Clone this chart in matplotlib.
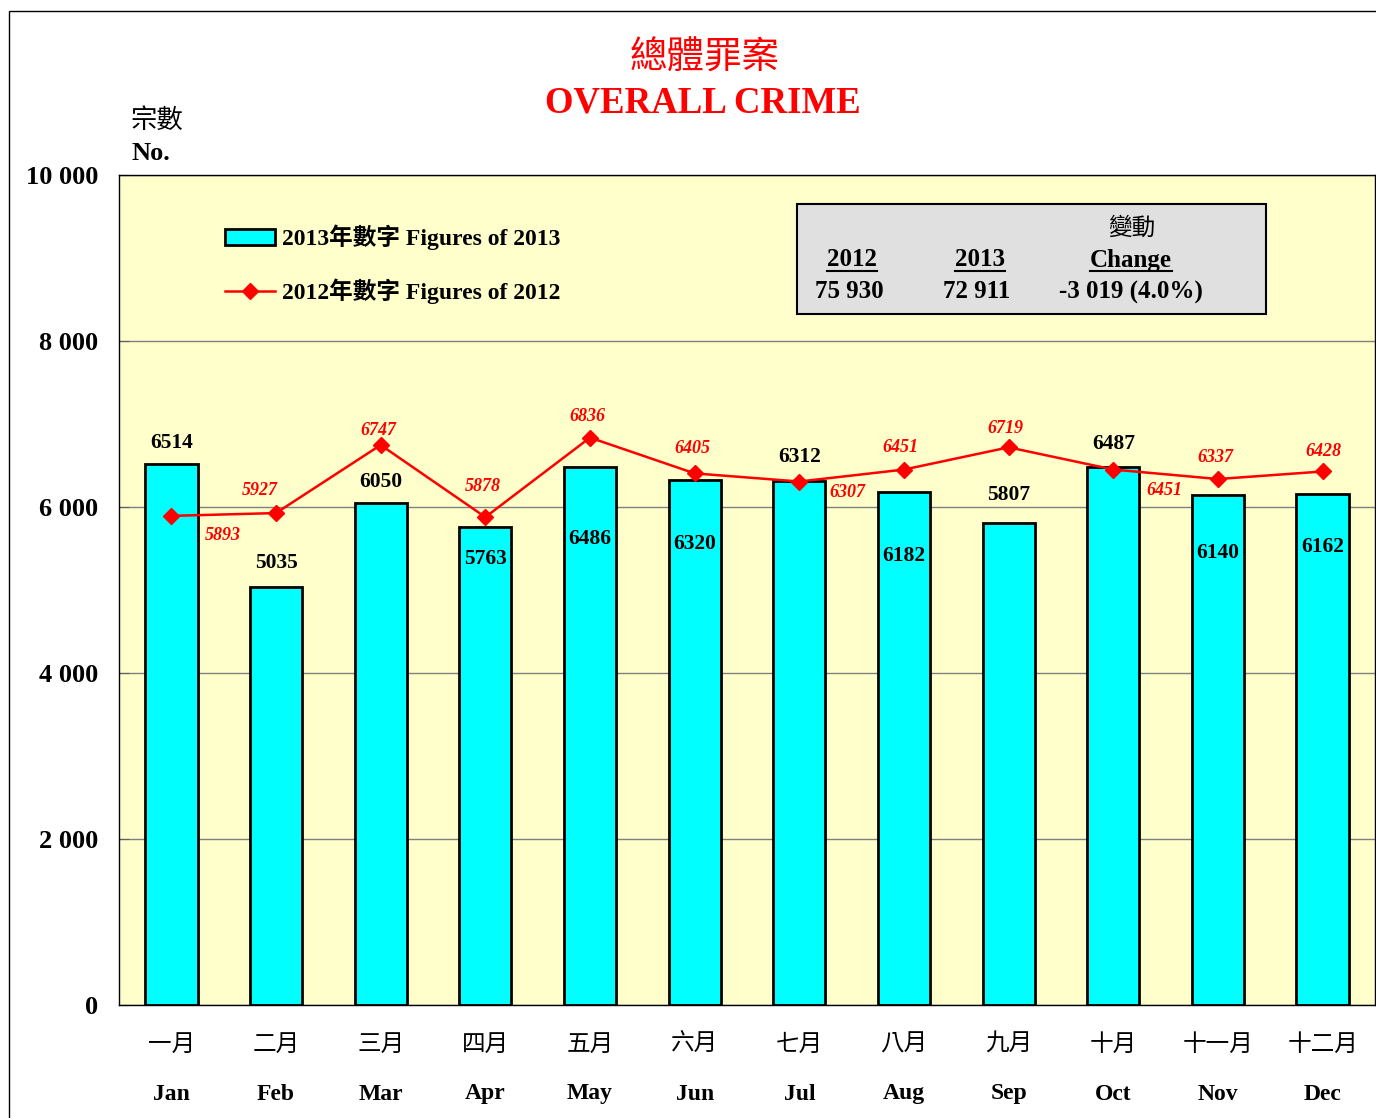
import matplotlib
matplotlib.use("Agg")
from matplotlib import pyplot as plt
from matplotlib.patches import Rectangle
from matplotlib.lines import Line2D
from matplotlib.transforms import blended_transform_factory

# data
months_zh = ['一月', '二月', '三月', '四月', '五月', '六月',
             '七月', '八月', '九月', '十月', '十一月', '十二月']
months_en = ['Jan', 'Feb', 'Mar', 'Apr', 'May', 'Jun',
             'Jul', 'Aug', 'Sep', 'Oct', 'Nov', 'Dec']
figures_2013 = [6514, 5035, 6050, 5763, 6486, 6320, 6312, 6182, 5807, 6487, 6140, 6162]
figures_2012 = [5893, 5927, 6747, 5878, 6836, 6405, 6307, 6451, 6719, 6451, 6337, 6428]
yticks = [0, 2000, 4000, 6000, 8000, 10000]
ytick_labels = ['0', '2 000', '4 000', '6 000', '8 000', '10 000']
total_2012 = '75 930'
total_2013 = '72 911'
total_change = '-3 019 (4.0%)'

# label offsets in pixels (dx, dy)
bar_label_dy = [21, 24, 21, -32, -72, -64, 24, -64, 28, 23, -58, -53]
line_label_off = [(51, -20), (-16, 23), (-2, 14), (-3, 31), (-3, 21), (-2, 25),
                  (48, -11), (-4, 22), (-3, 19), (51, -21), (-3, 22), (1, 20)]

FAM = ['Liberation Serif', 'Noto Sans CJK TC']
plt.rcParams['font.family'] = FAM
plt.rcParams['font.weight'] = 'bold'

W, H = 1376, 1118
fig = plt.figure(figsize=(W / 100, H / 100), dpi=100)
ax = fig.add_axes([119 / W, 1 - 1005 / H, (1375 - 119) / W, (1005 - 175) / H])
ax.set_facecolor('#FFFFCC')

def fx(x):
    return x / W

def fy(y):
    return 1 - y / H

x = list(range(len(months_en)))
bars = ax.bar(x, figures_2013, width=0.5, color='#00FFFF', edgecolor='black',
              linewidth=2, zorder=2)
line, = ax.plot(x, figures_2012, color='red', lw=1.8, marker='D', markersize=8,
                zorder=3)

ax.set_xlim(-0.5, 11.5)
ax.set_ylim(0, 10000)
ax.set_yticks(yticks)
ax.set_yticklabels(ytick_labels, fontsize=19, fontweight='bold')
ax.yaxis.grid(True, color='#808080', lw=1)
ax.set_axisbelow(True)
ax.tick_params(axis='y', direction='in', length=7, pad=15, color='#606060')
ax.tick_params(axis='x', length=0, pad=20)
ax.set_xticks(x)
ax.set_xticklabels(months_zh, fontsize=17, fontweight='normal', family='Noto Sans CJK TC')
for s in ax.spines.values():
    s.set_color('black')
    s.set_linewidth(1)

trans = blended_transform_factory(ax.transData, ax.transAxes)
for i, m in enumerate(months_en):
    ax.text(i, -89 / 830, m, transform=trans, ha='center', va='center',
            fontsize=17, fontweight='bold')

# bar value labels
for i, v in enumerate(figures_2013):
    ax.annotate(str(v), (i, v), xytext=(0, bar_label_dy[i]), textcoords='offset pixels',
                ha='center', va='center', fontsize=15.5, fontweight='bold',
                color='black', zorder=4)

# 2012 labels
for i, v in enumerate(figures_2012):
    dx, dy = line_label_off[i]
    ax.annotate(str(v), (i, v), xytext=(dx, dy), textcoords='offset pixels',
                ha='center', va='center', fontsize=13, fontweight='bold',
                style='italic', color='red', zorder=4)

# legend
leg = ax.legend([bars, line], ['2013年數字 Figures of 2013', '2012年數字 Figures of 2012'],
                loc='upper left', bbox_to_anchor=(0.0844, 0.94), frameon=False,
                prop={'family': FAM, 'weight': 'bold', 'size': 17},
                handlelength=2.1, handletextpad=0.3, labelspacing=1.2, borderpad=0,
                borderaxespad=0)

# summary box
ax.add_patch(Rectangle((0.5398, 0.8325), 0.3734, 0.1326, transform=ax.transAxes,
                       facecolor='#E0E0E0', edgecolor='black', lw=1.5, zorder=5))
fig.text(fx(1132), fy(228), '變動', ha='center', va='center', fontsize=17,
         fontweight='normal', family='Noto Sans CJK TC', zorder=6)
heads = [fig.text(fx(852), fy(260), '2012', ha='center', va='center', fontsize=18, zorder=6),
         fig.text(fx(980), fy(260), '2013', ha='center', va='center', fontsize=18, zorder=6),
         fig.text(fx(1131), fy(260), 'Change', ha='center', va='center', fontsize=18, zorder=6)]
fig.text(fx(849), fy(292), total_2012, ha='center', va='center', fontsize=18, zorder=6)
fig.text(fx(977), fy(292), total_2013, ha='center', va='center', fontsize=18, zorder=6)
fig.text(fx(1131), fy(292), total_change, ha='center', va='center', fontsize=18, zorder=6)

# titles
fig.text(fx(705), fy(58), '總體罪案', ha='center', va='center', fontsize=27,
         color='red', fontweight='normal', family='Noto Sans CJK TC')
fig.text(fx(703), fy(103), 'OVERALL CRIME', ha='center', va='center', fontsize=26.5,
         color='red', fontweight='bold')
fig.text(fx(131), fy(120), '宗數', ha='left', va='center', fontsize=19,
         fontweight='normal', family='Noto Sans CJK TC')
fig.text(fx(131), fy(154), 'No.', ha='left', va='center', fontsize=19, fontweight='bold')

# outer frame
fig.patches.append(Rectangle((fx(9), -0.05), 2, fy(11) + 0.05, transform=fig.transFigure,
                             fill=False, edgecolor='black', lw=1))

# underline the box headings
fig.canvas.draw()
inv = fig.transFigure.inverted()
for t in heads:
    bb = t.get_window_extent()
    (x0, y0), (x1, _) = inv.transform([(bb.x0, bb.y0 + 1), (bb.x1, bb.y0)])
    fig.lines.append(Line2D([x0, x1], [y0, y0], transform=fig.transFigure,
                            color='black', lw=1.5, zorder=6))

fig.savefig('out.png', dpi=100)
